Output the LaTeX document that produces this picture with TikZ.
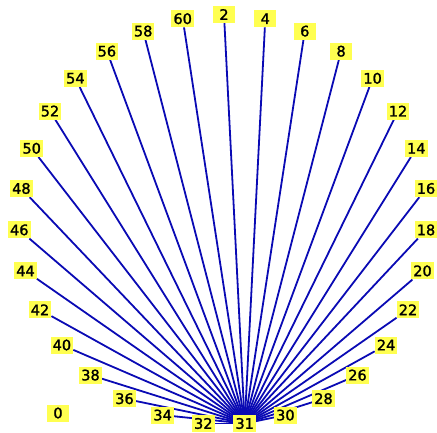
\documentclass[tikz,border=0pt]{standalone}
\usepackage{fontspec}
\setmainfont{DejaVu Sans}[FakeBold=1.5]
\usetikzlibrary{backgrounds}
\definecolor{vtxFill}{RGB}{255,255,80}
\definecolor{spokeBlue}{RGB}{10,10,180}

\begin{document}
\begin{tikzpicture}[
  x=1pt, y=-1pt,
  font=\fontsize{14.5}{16}\selectfont,
  vtx/.style={fill=vtxFill, minimum width=22pt, minimum height=17pt, inner xsep=2pt, inner ysep=3pt},
  spoke/.style={draw=spokeBlue, line width=1.8pt}
]
\useasboundingbox (0,0) rectangle (437,433);

% Right half (clockwise from the top)
\node[vtx] (n2) at (224,14.5) {2};
\node[vtx] (n4) at (265.3,18.7) {4};
\node[vtx] (n6) at (304.8,31.1) {6};
\node[vtx] (n8) at (341.1,51.2) {8};
\node[vtx] (n10) at (372.6,78.3) {10};
\node[vtx] (n12) at (398.0,111.1) {12};
\node[vtx] (n14) at (416.3,148.3) {14};
\node[vtx] (n16) at (426.0,188.5) {16};
\node[vtx] (n18) at (426.0,229.9) {18};
\node[vtx] (n20) at (422.5,270.9) {20};
\node[vtx] (n22) at (408.0,309.8) {22};
\node[vtx] (n24) at (386.1,345.0) {24};
\node[vtx] (n26) at (357.5,375.1) {26};
\node[vtx] (n28) at (323.5,398.7) {28};
\node[vtx] (n30) at (285.4,415.1) {30};

% Hub
\node[vtx] (n31) at (244.7,423.5) {31};

% Left half
\node[vtx] (n32) at (203.3,423.5) {32};
\node[vtx] (n34) at (162.6,415.1) {34};
\node[vtx] (n36) at (124.5,398.7) {36};
\node[vtx] (n38) at (90.5,375.1) {38};
\node[vtx] (n40) at (61.9,345.0) {40};
\node[vtx] (n42) at (40.0,309.8) {42};
\node[vtx] (n44) at (25.5,270.9) {44};
\node[vtx] (n46) at (19.3,229.9) {46};
\node[vtx] (n48) at (21.4,188.5) {48};
\node[vtx] (n50) at (31.7,148.3) {50};
\node[vtx] (n52) at (50.0,111.1) {52};
\node[vtx] (n54) at (75.4,78.3) {54};
\node[vtx] (n56) at (106.9,51.2) {56};
\node[vtx] (n58) at (143.2,31.1) {58};
\node[vtx] (n60) at (182.7,18.7) {60};

% Isolated vertex
\node[vtx] (n0) at (58,413) {0};

% Spokes into the hub
\begin{scope}[on background layer]
\draw[spoke] (n2) -- (n31.center);
\draw[spoke] (n4) -- (n31.center);
\draw[spoke] (n6) -- (n31.center);
\draw[spoke] (n8) -- (n31.center);
\draw[spoke] (n10) -- (n31.center);
\draw[spoke] (n12) -- (n31.center);
\draw[spoke] (n14) -- (n31.center);
\draw[spoke] (n16) -- (n31.center);
\draw[spoke] (n18) -- (n31.center);
\draw[spoke] (n20) -- (n31.center);
\draw[spoke] (n22) -- (n31.center);
\draw[spoke] (n24) -- (n31.center);
\draw[spoke] (n26) -- (n31.center);
\draw[spoke] (n28) -- (n31.center);
\draw[spoke] (n30) -- (n31.center);
\draw[spoke] (n32) -- (n31.center);
\draw[spoke] (n34) -- (n31.center);
\draw[spoke] (n36) -- (n31.center);
\draw[spoke] (n38) -- (n31.center);
\draw[spoke] (n40) -- (n31.center);
\draw[spoke] (n42) -- (n31.center);
\draw[spoke] (n44) -- (n31.center);
\draw[spoke] (n46) -- (n31.center);
\draw[spoke] (n48) -- (n31.center);
\draw[spoke] (n50) -- (n31.center);
\draw[spoke] (n52) -- (n31.center);
\draw[spoke] (n54) -- (n31.center);
\draw[spoke] (n56) -- (n31.center);
\draw[spoke] (n58) -- (n31.center);
\draw[spoke] (n60) -- (n31.center);
\end{scope}

\end{tikzpicture}
\end{document}
